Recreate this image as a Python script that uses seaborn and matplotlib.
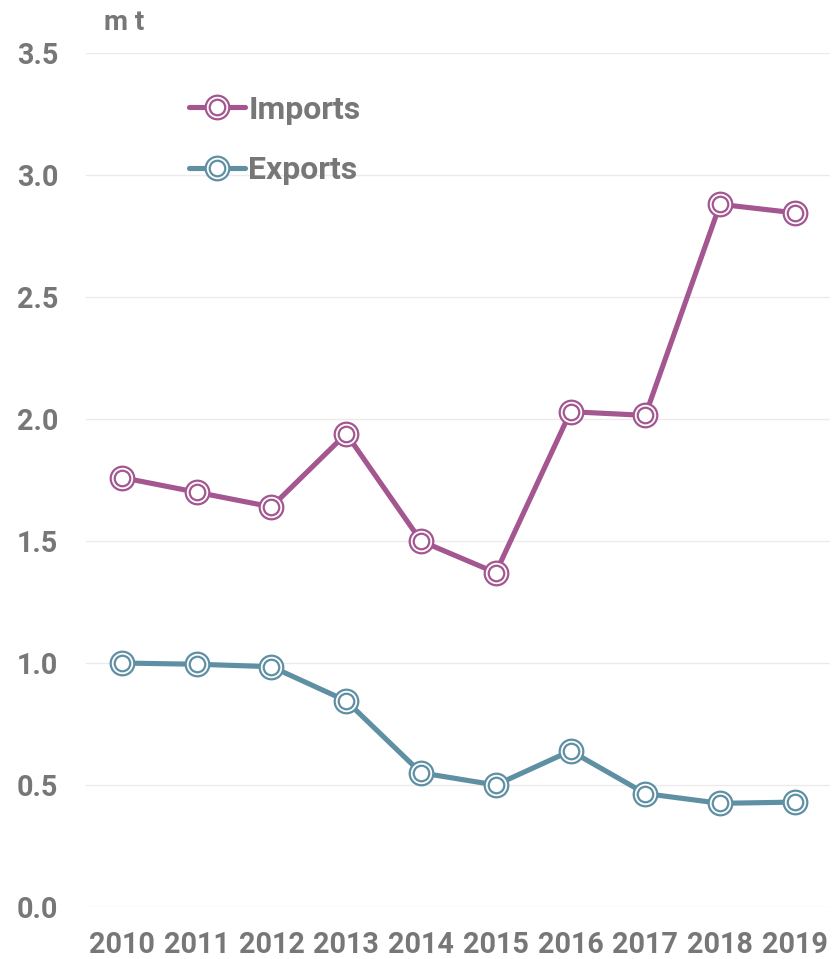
import matplotlib
matplotlib.use("Agg")
import matplotlib.pyplot as plt
from matplotlib.lines import Line2D
from matplotlib.legend_handler import HandlerTuple
import pandas as pd
import seaborn as sns

years = [2010, 2011, 2012, 2013, 2014, 2015, 2016, 2017, 2018, 2019]
imports = [1.76, 1.70, 1.64, 1.94, 1.50, 1.37, 2.03, 2.015, 2.88, 2.845]
exports = [1.00, 0.995, 0.985, 0.845, 0.55, 0.50, 0.64, 0.465, 0.425, 0.43]
series_names = ["Imports", "Exports"]
colors = ["#a3568f", "#5f8fa3"]
y_ticks = [0.0, 0.5, 1.0, 1.5, 2.0, 2.5, 3.0, 3.5]

sns.set_style("white")
plt.rcParams['font.family'] = ['Roboto', 'DejaVu Sans']
grey = "#777777"

df = pd.DataFrame({"year": years * 2,
                   "value": imports + exports,
                   "series": ["Imports"] * len(years) + ["Exports"] * len(years)})

fig = plt.figure(figsize=(8.32, 9.59), dpi=100)
ax = fig.add_axes([0.1034, 0.0542, 0.8942, 0.8905])

for name, col in zip(series_names, colors):
    sub = df[df.series == name]
    sns.lineplot(data=sub, x="year", y="value", ax=ax, color=col, lw=3.7,
                 marker="o", markersize=17, markerfacecolor="white",
                 markeredgecolor=col, markeredgewidth=1.6, clip_on=False, zorder=3)
    sns.scatterplot(data=sub, x="year", y="value", ax=ax, s=125, facecolor="white",
                    edgecolor=col, linewidth=1.6, clip_on=False, zorder=4)

ax.set_xlim(2009.52, 2019.47)
ax.set_ylim(0, 3.5)
ax.set_xticks(years)
ax.set_xticklabels([str(y) for y in years])
ax.set_yticks(y_ticks)
ax.set_yticklabels([f"{v:.1f}" for v in y_ticks])
ax.grid(axis="y", color="#ebebeb", lw=1)
ax.set_axisbelow(True)
for s in ax.spines.values():
    s.set_visible(False)
ax.tick_params(axis="both", length=0, labelsize=20.7, labelcolor=grey)
ax.tick_params(axis="y", pad=20)
ax.tick_params(axis="x", pad=17)
for lab in ax.get_xticklabels() + ax.get_yticklabels():
    lab.set_fontweight("bold")
ax.set_xlabel("")
ax.set_ylabel("")

handles = [Line2D([], [], color=c, lw=3.7, marker="o", markersize=17, markerfacecolor="white",
                  markeredgecolor=c, markeredgewidth=1.6) for c in colors]
inner = [Line2D([], [], ls="none", marker="o", markersize=11.2, markerfacecolor="white",
                markeredgecolor=c, markeredgewidth=1.6) for c in colors]
leg = ax.legend([(h, i) for h, i in zip(handles, inner)], series_names,
                handler_map={tuple: HandlerTuple(ndivide=1)},
                loc="upper left", bbox_to_anchor=(0.1, 0.985), frameon=False,
                handlelength=1.75, handletextpad=0.1, labelspacing=0.95,
                prop={"size": 23, "weight": "bold"})
for t in leg.get_texts():
    t.set_color(grey)

fig.text(0.125, 0.977, "m t", fontsize=20, fontweight="bold", color=grey, ha="left", va="center")

fig.savefig("out.png", dpi=100)
